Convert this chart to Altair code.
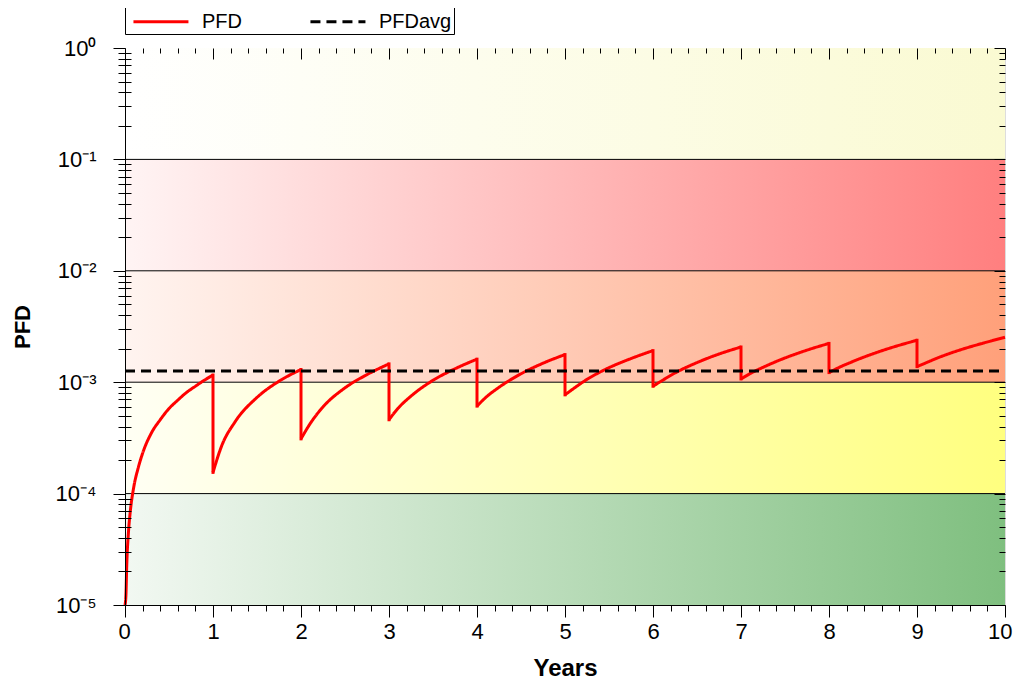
import altair as alt
import pandas as pd

# ---------------- data ----------------
# rising parts of the sawtooth (one list per proof-test interval)
seg_t = [
    [0, 0.01, 0.02, 0.04, 0.06, 0.1, 0.15, 0.2, 0.3, 0.4, 0.5, 0.6, 0.7, 0.8, 0.9, 1.0],
    [1.0, 1.1, 1.25, 1.5, 1.75, 2.0],
    [2.0, 2.1, 2.25, 2.5, 2.75, 3.0],
    [3.0, 3.1, 3.25, 3.5, 3.75, 4.0],
    [4.0, 4.1, 4.25, 4.5, 4.75, 5.0],
    [5.0, 5.1, 5.25, 5.5, 5.75, 6.0],
    [6.0, 6.1, 6.25, 6.5, 6.75, 7.0],
    [7.0, 7.1, 7.25, 7.5, 7.75, 8.0],
    [8.0, 8.1, 8.25, 8.5, 8.75, 9.0],
    [9.0, 9.1, 9.25, 9.5, 9.75, 10.0],
]
seg_v = [
    [1.0e-5, 1.2e-5, 2.3e-5, 4.6e-5, 6.9e-5, 1.15e-4, 1.7e-4, 2.3e-4, 3.5e-4, 4.6e-4,
     5.8e-4, 6.9e-4, 8.1e-4, 9.2e-4, 1.04e-3, 1.16e-3],
    [1.55e-4, 2.7e-4, 4.4e-4, 7.3e-4, 1.02e-3, 1.30e-3],
    [3.1e-4, 4.2e-4, 6.0e-4, 8.9e-4, 1.17e-3, 1.46e-3],
    [4.6e-4, 5.8e-4, 7.5e-4, 1.04e-3, 1.32e-3, 1.61e-3],
    [6.1e-4, 7.3e-4, 9.0e-4, 1.19e-3, 1.48e-3, 1.77e-3],
    [7.7e-4, 8.8e-4, 1.06e-3, 1.35e-3, 1.63e-3, 1.92e-3],
    [9.2e-4, 1.03e-3, 1.21e-3, 1.50e-3, 1.79e-3, 2.07e-3],
    [1.07e-3, 1.19e-3, 1.36e-3, 1.65e-3, 1.94e-3, 2.23e-3],
    [1.22e-3, 1.34e-3, 1.51e-3, 1.80e-3, 2.09e-3, 2.38e-3],
    [1.38e-3, 1.49e-3, 1.67e-3, 1.96e-3, 2.24e-3, 2.53e-3],
]
# proof tests: vertical drops (time, value before, value after)
drop_t = [1, 2, 3, 4, 5, 6, 7, 8, 9]
drop_hi = [1.16e-3, 1.30e-3, 1.46e-3, 1.61e-3, 1.77e-3, 1.92e-3, 2.07e-3, 2.23e-3, 2.38e-3]
drop_lo = [1.55e-4, 3.1e-4, 4.6e-4, 6.1e-4, 7.7e-4, 9.2e-4, 1.07e-3, 1.22e-3, 1.38e-3]

avg_t = [0, 10]
avg_v = [1.26e-3, 1.26e-3]

band_lo = [1e-1, 1e-2, 1e-3, 1e-4, 1e-5]
band_hi = [1e0, 1e-1, 1e-2, 1e-3, 1e-4]
band_left = ["#ffffff", "#fff4f4", "#fff4f0", "#fffff4", "#f2f8f2"]
band_right = ["#fafad2", "#ff7f7f", "#ffa07a", "#ffff7f", "#7fbf7f"]
decade_lines = [1e-1, 1e-2, 1e-3, 1e-4]

y_major = [1e0, 1e-1, 1e-2, 1e-3, 1e-4, 1e-5]
y_minor = [m * 10.0 ** e for e in range(-5, 0) for m in range(2, 10)]
x_major = list(range(0, 11))
x_minor = [round(i * 0.2, 1) for i in range(51) if i % 5 != 0]

W, H = 880, 557
FONT = "Liberation Sans"
NBSP = "\u00a0"

rows = []
for k, (ts, vs) in enumerate(zip(seg_t, seg_v)):
    for t, v in zip(ts, vs):
        rows.append({"t": t, "v": v, "series": "PFD", "seg": k})
for t, v in zip(avg_t, avg_v):
    rows.append({"t": t, "v": v, "series": "PFDavg", "seg": -1})
lines_df = pd.DataFrame(rows)
drops_df = pd.DataFrame({"t": drop_t, "hi": drop_hi, "lo": drop_lo})

xs = alt.Scale(domain=[0, 10], nice=False, zero=False)
ys = alt.Scale(type="log", domain=[1e-5, 1], nice=False)

label_expr = ("datum.value >= 0.5 ? '10⁰' : datum.value >= 0.05 ? '10⁻¹' : "
              "datum.value >= 0.005 ? '10⁻²' : datum.value >= 0.0005 ? '10⁻³' : "
              "datum.value >= 0.00005 ? '10⁻⁴' : '10⁻⁵'")

layers = []
# gradient bands
for lo, hi, cl, cr in zip(band_lo, band_hi, band_left, band_right):
    bdf = pd.DataFrame({"x0": [0], "x1": [10], "lo": [lo], "hi": [hi]})
    grad = alt.LinearGradient(gradient="linear", x1=0, x2=1, y1=0, y2=0,
                              stops=[alt.GradientStop(color=cl, offset=0),
                                     alt.GradientStop(color=cr, offset=1)])
    layers.append(alt.Chart(bdf).mark_rect(color=grad).encode(
        x=alt.X("x0:Q", scale=xs, axis=None), x2="x1:Q",
        y=alt.Y("lo:Q", scale=ys, axis=None), y2="hi:Q"))

rules = alt.Chart(pd.DataFrame({"v": decade_lines})).mark_rule(
    color="black", strokeWidth=1).encode(y=alt.Y("v:Q", scale=ys, axis=None))
layers.append(rules)

legend = alt.Legend(title=None, orient="none", legendX=0, legendY=-41,
                    direction="horizontal", symbolType="M-0.55,0L4.45,0", symbolSize=484,
                    symbolStrokeWidth=3, labelFont=FONT, labelFontSize=20,
                    labelColor="black", labelOffset=50, columnPadding=62, padding=2,
                    strokeColor="black", fillColor="white",
                    labelExpr="length(datum.label) > 3 ? datum.label + '" + NBSP * 5 + "' : datum.label")

drops = alt.Chart(drops_df).mark_rule(color="#ff0000", strokeWidth=3, strokeCap="square").encode(
    x=alt.X("t:Q", scale=xs, axis=None),
    y=alt.Y("hi:Q", scale=ys, axis=None), y2="lo:Q")
layers.append(drops)

lines = alt.Chart(lines_df).mark_line(strokeWidth=3, interpolate="monotone", strokeJoin="round").encode(
    x=alt.X("t:Q", scale=xs, axis=alt.Axis(
        orient="bottom", values=x_major, tickSize=12, tickColor="black", domainColor="black",
        labelFont=FONT, labelFontSize=22, labelColor="black", labelPadding=4, grid=False,
        labelFlush=True, labelFlushOffset=7,
        title="Years", titleFont=FONT, titleFontSize=24, titleFontWeight="bold",
        titleColor="black", titlePadding=14, zindex=1)),
    y=alt.Y("v:Q", scale=ys, axis=alt.Axis(
        orient="left", values=y_major, tickSize=12, tickColor="black", domainColor="black",
        labelExpr=label_expr, labelFont=FONT, labelFontSize=22, labelColor="black",
        labelPadding=17, grid=False, title="PFD", titleFont=FONT, titleFontSize=22,
        titleFontWeight="bold", titleColor="black", titlePadding=21, zindex=1)),
    color=alt.Color("series:N", scale=alt.Scale(domain=["PFD", "PFDavg"], range=["#ff0000", "#000000"]),
                    legend=legend),
    strokeDash=alt.StrokeDash("series:N", scale=alt.Scale(domain=["PFD", "PFDavg"], range=[[1, 0], [10, 6]]),
                              legend=legend),
    detail="seg:N",
)
layers.append(lines)

tick_df = pd.DataFrame({"t": [0, 10], "v": [1e-5, 1]})


def tick_layer(xaxis, yaxis):
    return alt.Chart(tick_df).mark_point(opacity=0).encode(
        x=alt.X("t:Q", scale=xs, axis=xaxis), y=alt.Y("v:Q", scale=ys, axis=yaxis))


def ax(orient, values, size, offset=0):
    return alt.Axis(orient=orient, values=values, tickSize=size, offset=offset, labels=False,
                    domain=False, grid=False, title=None, tickColor="black", zindex=1)


# minor ticks outside bottom / crossing left
layers.append(tick_layer(ax("bottom", x_minor, 6), ax("left", y_minor, 13, -6)))
# inward ticks on top / right
layers.append(tick_layer(ax("top", x_major, 11, -11), ax("right", y_major, 11, -11)))
layers.append(tick_layer(ax("top", x_minor, 5, -5), ax("right", y_minor, 6, -6)))

chart = alt.layer(*layers).resolve_axis(x="independent", y="independent").properties(
    width=W, height=H,
    autosize=alt.AutoSizeParams(type="none"),
    padding={"left": 117, "top": 40, "right": 8, "bottom": 78},
).configure_view(stroke="black", strokeWidth=1).configure(background="white")

chart.save("out.html", embed_options={"renderer": "svg", "actions": False})
